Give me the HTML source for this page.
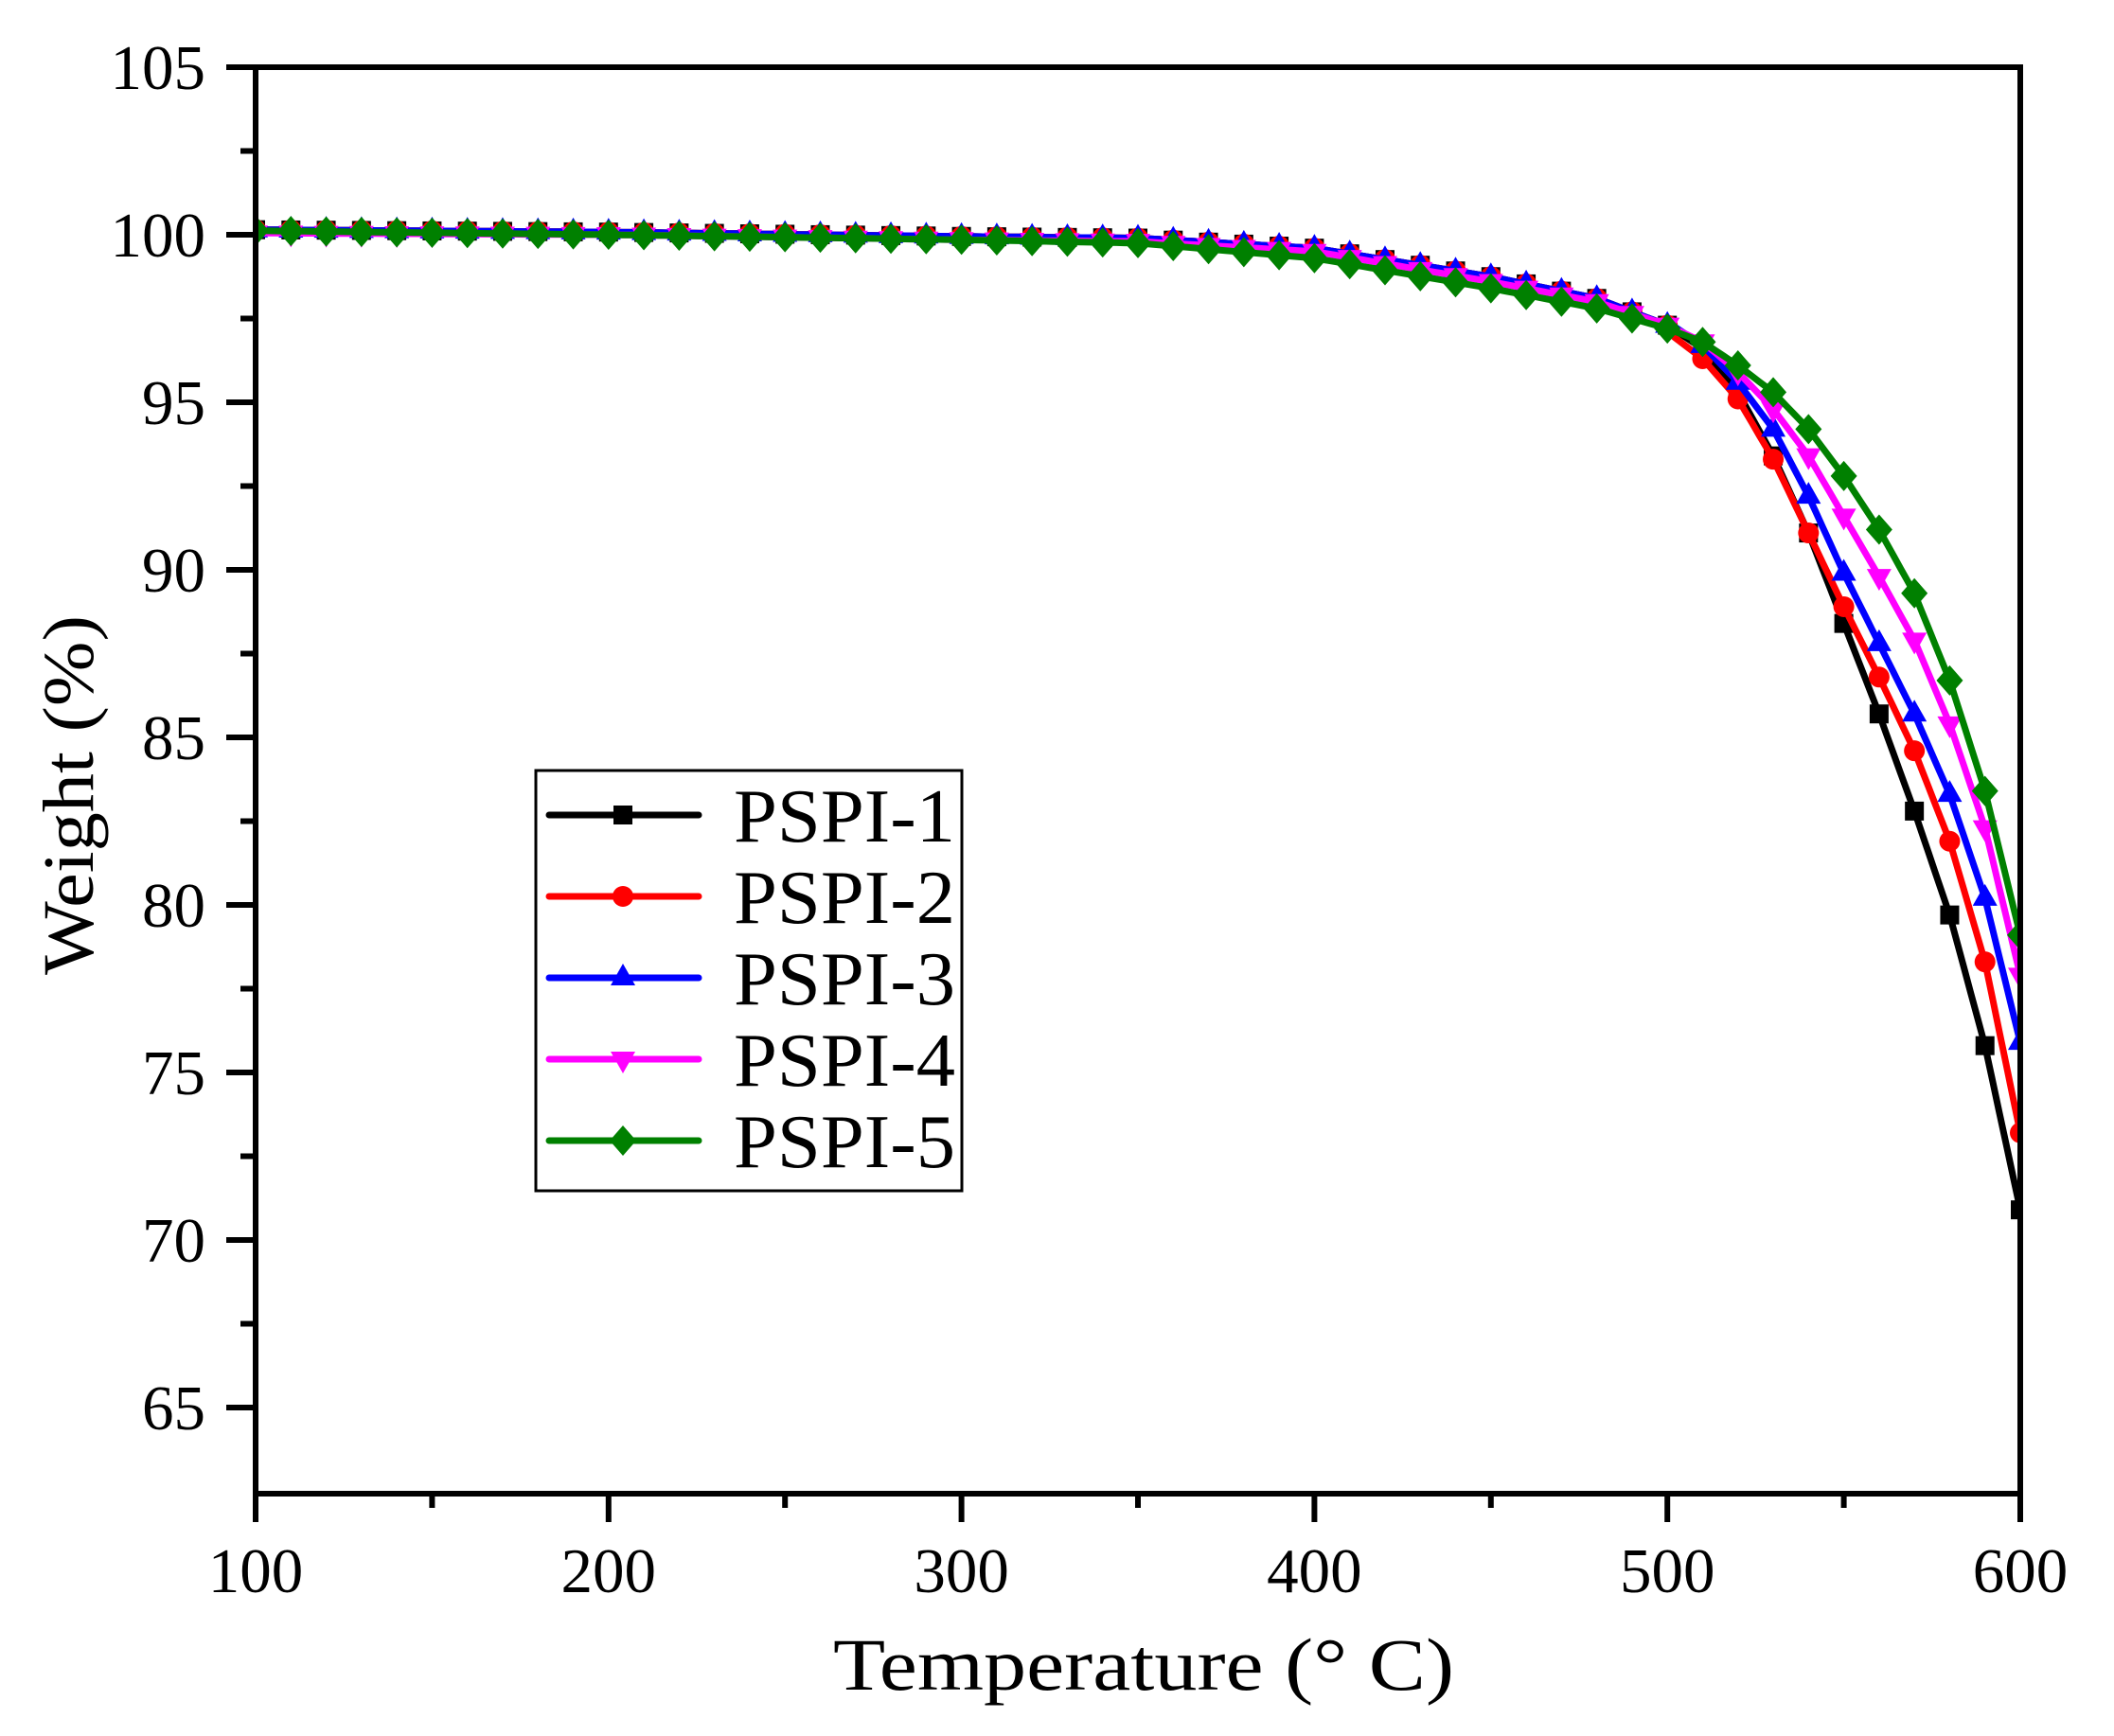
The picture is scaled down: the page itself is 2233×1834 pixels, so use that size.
<!DOCTYPE html>
<html><head><meta charset="utf-8"><style>
html,body{margin:0;padding:0;background:#fff;}
svg{display:block}
text{font-family:"Liberation Serif",serif;fill:#000}
</style></head><body>
<svg id="s" width="2233" height="1834" viewBox="0 0 2233 1834" xmlns="http://www.w3.org/2000/svg">
<defs><clipPath id="c"><rect x="270" y="71" width="1864" height="1507"/></clipPath></defs>
<g id="plot" clip-path="url(#c)"></g>
<g id="axes" stroke="#000" stroke-width="6" fill="none"></g>
<g id="labels" font-size="67"></g>
<text x="880" y="1785" font-size="78" textLength="656" lengthAdjust="spacingAndGlyphs">Temperature (° C)</text>
<text transform="translate(98,1030) rotate(-90)" font-size="76" textLength="380" lengthAdjust="spacingAndGlyphs">Weight (%)</text>
<rect x="566" y="814" width="450" height="444" fill="#fff" stroke="#000" stroke-width="3"/>
<g id="leg"></g>
</svg>
<script>
const NS="http://www.w3.org/2000/svg";
const X=t=>270+(t-100)*3.728, Y=v=>248+(100-v)*35.4;
function el(p,tag,a){const e=document.createElementNS(NS,tag);for(const k in a)e.setAttribute(k,a[k]);p.appendChild(e);return e;}
const axes=document.getElementById('axes'),lab=document.getElementById('labels');
el(axes,'rect',{x:270,y:71,width:1864,height:1507});
for(let v=65;v<=105;v+=5){el(axes,'line',{x1:239,x2:270,y1:Y(v),y2:Y(v)});const t=el(lab,'text',{x:217,y:Y(v)+23,'text-anchor':'end'});t.textContent=v;}
for(let v=67.5;v<105;v+=5)el(axes,'line',{x1:254,x2:270,y1:Y(v),y2:Y(v)});
for(let t=100;t<=600;t+=100){el(axes,'line',{x1:X(t),x2:X(t),y1:1578,y2:1608});const e=el(lab,'text',{x:X(t),y:1682,'text-anchor':'middle'});e.textContent=t;}
for(let t=150;t<600;t+=100)el(axes,'line',{x1:X(t),x2:X(t),y1:1578,y2:1593});
const common=[[100,100.15],[200,100.08],[300,99.95],[350,99.9],[400,99.6],[450,98.75],[480,98.1],[500,97.3]];
const series=[
{c:'#000',m:'sq',k:common.concat([[510,96.6],[520,95.3],[530,93.4],[540,91.1],[550,88.4],[560,85.7],[570,82.8],[580,79.7],[590,75.8],[600,70.9]])},
{c:'#f00',m:'ci',k:common.concat([[500,97.1],[510,96.3],[520,95.1],[530,93.3],[540,91.1],[550,88.9],[560,86.8],[570,84.6],[580,81.9],[590,78.3],[600,73.2]])},
{c:'#00f',m:'tu',k:common.concat([[500,97.4],[510,96.7],[520,95.6],[530,94.2],[540,92.2],[550,89.9],[560,87.8],[570,85.7],[580,83.3],[590,80.2],[600,75.9]])},
{c:'#f0f',m:'td',k:[[100,100.05],[200,100.0],[300,99.85],[350,99.8],[400,99.5],[450,98.6],[480,98.0],[500,97.3],[510,96.8],[520,95.9],[530,94.8],[540,93.4],[550,91.6],[560,89.8],[570,87.9],[580,85.4],[590,82.3],[600,77.9]]},
{c:'#008000',m:'di',k:[[100,100.12],[200,100.0],[300,99.85],[350,99.75],[400,99.3],[450,98.4],[480,97.8],[490,97.5],[500,97.2],[510,96.8],[520,96.1],[530,95.3],[540,94.2],[550,92.8],[560,91.2],[570,89.3],[580,86.7],[590,83.4],[600,79.1]]}];
function interp(k,t){for(let i=0;i<k.length-1;i++){if(t<=k[i+1][0]){if(t<k[i][0])continue;const f=(t-k[i][0])/(k[i+1][0]-k[i][0]);return k[i][1]+f*(k[i+1][1]-k[i][1]);}}return k[k.length-1][1];}
function marker(g,m,x,y,c){
 if(m=='sq')el(g,'rect',{x:x-10,y:y-10,width:20,height:20,fill:c});
 else if(m=='ci')el(g,'circle',{cx:x,cy:y,r:11,fill:c});
 else if(m=='tu')el(g,'polygon',{points:`${x},${y-15} ${x-13},${y+8} ${x+13},${y+8}`,fill:c});
 else if(m=='td')el(g,'polygon',{points:`${x},${y+15} ${x-13},${y-8} ${x+13},${y-8}`,fill:c});
 else el(g,'polygon',{points:`${x},${y-16} ${x+14},${y} ${x},${y+16} ${x-14},${y}`,fill:c});
}
const plot=document.getElementById('plot'),leg=document.getElementById('leg');
series.forEach((s,i)=>{
 let pts=[];for(let t=100;t<=600;t+=2)pts.push(X(t).toFixed(1)+','+Y(interp(s.k,t)).toFixed(1));
 el(plot,'polyline',{points:pts.join(' '),fill:'none',stroke:s.c,'stroke-width':7,'stroke-linejoin':'round'});
 for(let t=100;t<=600;t+=10)marker(plot,s.m,X(t),Y(interp(s.k,t)),s.c);
 const ly=861+i*86;
 el(leg,'line',{x1:580,x2:738,y1:ly,y2:ly,stroke:s.c,'stroke-width':7,'stroke-linecap':'round'});
 marker(leg,s.m,658,ly,s.c);
 const t=el(leg,'text',{x:775,y:ly+28,'font-size':80,textLength:234,lengthAdjust:'spacingAndGlyphs'});t.textContent='PSPI-'+(i+1);
});
</script>
</body></html>
